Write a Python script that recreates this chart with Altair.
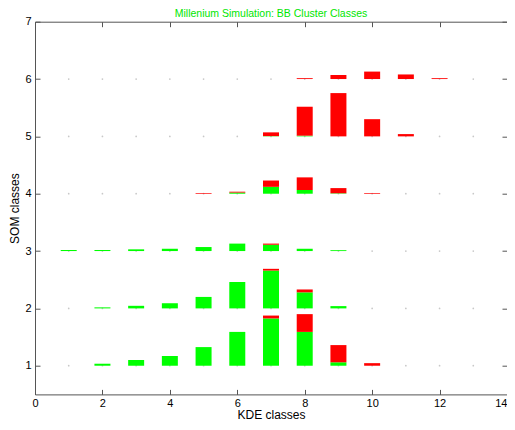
import altair as alt
import pandas as pd

# KDE classes (x) and SOM classes (y)
kde_classes = list(range(1, 14))
som_classes = [1, 2, 3, 4, 5, 6]

# green (lower) segment height per SOM class, for KDE classes 1..13
green_1 = [0, 0.035, 0.10, 0.17, 0.325, 0.59, 0.825, 0.59, 0.06, 0, 0, 0, 0]
green_2 = [0, 0.018, 0.045, 0.09, 0.20, 0.46, 0.66, 0.28, 0.04, 0, 0, 0, 0]
green_3 = [0.018, 0.018, 0.03, 0.04, 0.07, 0.13, 0.11, 0.04, 0.015, 0, 0, 0, 0]
green_4 = [0, 0, 0, 0, 0, 0.02, 0.12, 0.065, 0.008, 0, 0, 0, 0]
green_5 = [0, 0, 0, 0, 0, 0, 0.005, 0.012, 0, 0, 0, 0, 0]
green_6 = [0, 0, 0, 0, 0, 0, 0, 0, 0, 0, 0, 0, 0]

# red (upper) segment height per SOM class
red_1 = [0, 0, 0, 0, 0, 0, 0.05, 0.31, 0.30, 0.045, 0, 0, 0]
red_2 = [0, 0, 0, 0, 0, 0, 0.03, 0.05, 0, 0, 0, 0, 0]
red_3 = [0, 0, 0, 0, 0, 0, 0.02, 0, 0, 0, 0, 0, 0]
red_4 = [0, 0, 0, 0, 0.012, 0.015, 0.11, 0.22, 0.09, 0.012, 0, 0, 0]
red_5 = [0, 0, 0, 0, 0, 0, 0.065, 0.505, 0.755, 0.30, 0.04, 0, 0]
red_6 = [0, 0, 0, 0, 0, 0, 0, 0.015, 0.07, 0.13, 0.08, 0.015, 0]

greens = [green_1, green_2, green_3, green_4, green_5, green_6]
reds = [red_1, red_2, red_3, red_4, red_5, red_6]

x_ticks = [0, 2, 4, 6, 8, 10, 12, 14]
y_ticks = [1, 2, 3, 4, 5, 6, 7]

rows = []
for som, gs, rs in zip(som_classes, greens, reds):
    for kde, g, r in zip(kde_classes, gs, rs):
        if g > 0:
            rows.append({"kde": kde, "lo": som, "hi": som + g, "part": "green"})
        if r > 0:
            rows.append({"kde": kde, "lo": som + g, "hi": som + g + r, "part": "red"})
bars = pd.DataFrame(rows)

grid = pd.DataFrame([{"kde": k, "som": s} for s in som_classes for k in kde_classes])

font = "Liberation Sans"
axis_color = "#555555"

xs = alt.Scale(domain=[0, 14], nice=False, zero=False, padding=0)
ys = alt.Scale(domain=[0.5, 7], nice=False, zero=False, padding=0)

dots = alt.Chart(grid).mark_point(filled=True, size=3, color="#c8c8c8", opacity=1).encode(
    x=alt.X("kde:Q", scale=xs, axis=alt.Axis(orient="top", values=x_ticks, labels=False,
            domain=False, grid=False, tickSize=5, offset=-5, title=None, tickColor=axis_color)),
    y=alt.Y("som:Q", scale=ys, axis=alt.Axis(orient="right", values=y_ticks, labels=False,
            domain=False, grid=False, tickSize=5, offset=-5, title=None, tickColor=axis_color)),
)

bar_layer = alt.Chart(bars).mark_bar(size=16).encode(
    x=alt.X("kde:Q", scale=xs, axis=alt.Axis(orient="bottom", values=x_ticks, domain=False,
            grid=False, tickSize=5, offset=-5, labelPadding=3, title="KDE classes",
            titlePadding=1, tickColor=axis_color,
            labelAlign=alt.ExprRef(expr="datum.value == 14 ? 'right' : 'center'"))),
    y=alt.Y("lo:Q", scale=ys, axis=alt.Axis(orient="left", values=y_ticks, domain=False,
            grid=False, tickSize=5, offset=-5, labelPadding=4, title="SOM classes",
            titlePadding=3, tickColor=axis_color)),
    y2="hi:Q",
    color=alt.Color("part:N", scale=alt.Scale(domain=["green", "red"],
                    range=["#00ff00", "#ff0000"]), legend=None),
)

chart = alt.layer(dots, bar_layer).resolve_axis(x="independent", y="independent").properties(
    width=472,
    height=372.7,
    autosize=alt.AutoSizeParams(type="none"),
    padding={"left": 27, "top": 13.7, "right": 0, "bottom": 27.6},
    title=alt.TitleParams("Millenium Simulation: BB Cluster Classes", color="#00e600",
                          font=font, fontSize=10.5, fontWeight="normal", offset=-4, anchor="middle"),
).configure_view(stroke=axis_color, strokeWidth=1).configure_axis(
    labelFont=font, titleFont=font, labelFontSize=11, titleFontSize=12,
    labelColor="black", titleColor="black", titleFontWeight="normal",
)

chart.save("out.html", embed_options={"renderer": "svg", "actions": False})
